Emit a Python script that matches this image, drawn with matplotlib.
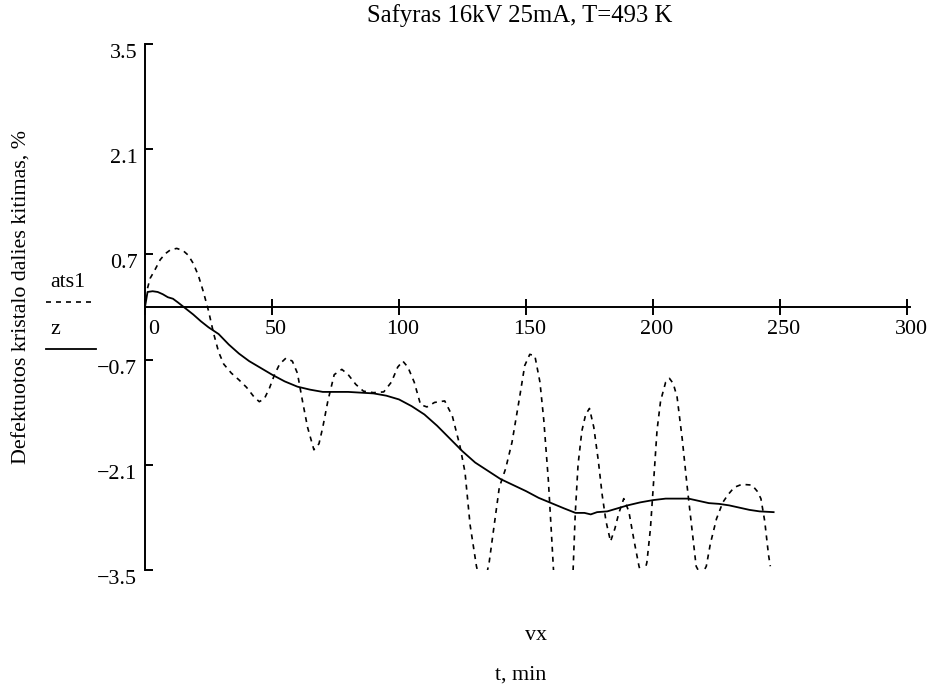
import matplotlib
matplotlib.use("Agg")
from matplotlib import pyplot as plt
from matplotlib.lines import Line2D
from matplotlib.transforms import ScaledTranslation

plt.rcParams['font.family'] = ['Liberation Serif', 'DejaVu Serif']

title = "Safyras 16kV 25mA, T=493 K"
y_label = "Defektuotos kristalo dalies kitimas, %"
x_name = "vx"
x_label = "t, min"

x_ticks = [0, 50, 100, 150, 200, 250, 300]
y_ticks = [-3.5, -2.1, -0.7, 0.7, 2.1, 3.5]
y_tick_labels = ["\u22123.5", "\u22122.1", "\u22120.7", "0.7", "2.1", "3.5"]

# ats1 - isvestine (punktyrine kreive)
t_ats1 = [1, 2, 4, 6, 8, 10, 12.5, 15, 17, 19, 21, 23, 25, 27, 29, 31, 34, 37, 40, 43,
          45, 47, 49, 51, 53, 55.5, 58, 60, 62, 64, 66.5, 68.5, 70, 72, 74.5, 77.5, 80, 83, 86, 90,
          94, 97, 99.5, 101.5, 103.5, 106, 108.5, 111, 114, 118, 121, 124, 126, 128, 130.5, 133, 135.5, 137.5,
          139.5, 142, 144.5, 147.5, 149.5, 151.5, 153.5, 155.5, 157, 158.8, 160, 161, 164.5, 168.5, 169.4, 170.5,
          172, 173.5, 175, 176.7, 178.5, 180, 181.5, 183.3, 185, 186.5, 188.5, 190.5, 192.5, 194.5, 196, 197.6,
          199, 200.3, 201.6, 203, 205, 206.5, 208, 209.5, 211.5, 213.5, 215.4, 217, 219, 221, 222.6, 225,
          227.5, 229.5, 232, 235, 239, 241, 242.5, 244, 245.5, 246.2]
ats1 = [0.25, 0.38, 0.5, 0.63, 0.71, 0.76, 0.78, 0.75, 0.69, 0.58, 0.42, 0.2, -0.05, -0.35, -0.6, -0.76, -0.88, -0.97, -1.07, -1.2,
        -1.26, -1.22, -1.08, -0.9, -0.76, -0.68, -0.72, -0.88, -1.25, -1.6, -1.9, -1.82, -1.6, -1.25, -0.9, -0.83, -0.9, -1.03, -1.12, -1.14,
        -1.13, -1.0, -0.8, -0.72, -0.8, -1.0, -1.3, -1.33, -1.27, -1.25, -1.45, -1.85, -2.2, -2.9, -3.45, -3.8, -3.4, -2.9,
        -2.4, -2.15, -1.8, -1.2, -0.78, -0.63, -0.65, -1.0, -1.5, -2.3, -3.0, -3.6, -4.2, -3.55, -2.75, -2.1,
        -1.65, -1.43, -1.35, -1.6, -2.05, -2.5, -2.85, -3.12, -2.95, -2.75, -2.55, -2.72, -3.1, -3.45, -3.62, -3.4,
        -2.95, -2.3, -1.64, -1.25, -1.0, -0.95, -1.02, -1.2, -1.75, -2.4, -2.97, -3.45, -3.58, -3.45, -3.15, -2.82,
        -2.6, -2.5, -2.4, -2.36, -2.37, -2.45, -2.55, -2.85, -3.3, -3.45]

# z - suglodinta kreive
t_z = [0, 1, 3, 5, 7, 9, 11, 13, 16, 19, 22, 25, 29, 33, 37, 41, 45, 50, 55, 60,
       65, 70, 75, 80, 85, 90, 95, 100, 105, 110, 115, 120, 125, 130, 135, 140, 145, 150, 155, 160,
       165, 169.5, 173, 175.5, 178, 182, 186, 190, 195, 200, 205, 210, 214, 218, 222, 226, 230, 234, 238, 242,
       247.5]
z = [0.0, 0.2, 0.21, 0.2, 0.17, 0.13, 0.11, 0.06, -0.02, -0.1, -0.19, -0.27, -0.36, -0.5, -0.62, -0.72, -0.8, -0.9, -0.99, -1.06,
     -1.1, -1.13, -1.13, -1.13, -1.14, -1.15, -1.18, -1.23, -1.32, -1.43, -1.58, -1.75, -1.92, -2.07, -2.18, -2.29, -2.37, -2.45, -2.54, -2.61,
     -2.68, -2.74, -2.74, -2.76, -2.73, -2.72, -2.68, -2.64, -2.6, -2.57, -2.55, -2.55, -2.55, -2.58, -2.61, -2.62, -2.64, -2.67, -2.7, -2.72,
     -2.73]

fig = plt.figure(figsize=(9.34, 6.88), dpi=100)
ax = fig.add_axes([145 / 934, 118 / 688, 765 / 934, 526 / 688])

ax.plot(t_ats1, ats1, color='black', lw=1.2, linestyle=(0, (3, 3)))
ax.plot(t_z, z, color='black', lw=1.3)

ax.set_xlim(0, 301.2)
ax.set_ylim(-3.5, 3.5)

for s in ['top', 'right']:
    ax.spines[s].set_visible(False)
ax.spines['left'].set_position(('data', 0))
ax.spines['bottom'].set_position(('data', 0))
ax.spines['left'].set_linewidth(1.4)
ax.spines['bottom'].set_linewidth(1.4)

ax.set_xticks(x_ticks)
ax.set_xticklabels([str(v) for v in x_ticks])
ax.set_yticks(y_ticks)
ax.set_yticklabels(y_tick_labels)
ax.tick_params(axis='x', direction='inout', length=12, width=1.4, pad=3.5, labelsize=15.8)
ax.tick_params(axis='y', direction='in', length=6, width=1.4, pad=5.5, labelsize=15.8)

for i, lab in enumerate(ax.get_xticklabels()):
    dx = 9 if i == 0 else 4
    lab.set_transform(lab.get_transform() + ScaledTranslation(dx / 100, 0, fig.dpi_scale_trans))
for lab in ax.get_yticklabels():
    lab.set_verticalalignment('top')

fig.text(520 / 934, 1 - 16 / 688, title, ha='center', va='center', fontsize=17.8)
fig.text(22 / 934, 1 - 297 / 688, y_label, ha='center', va='center', rotation=90, fontsize=15.8)
fig.text(536 / 934, 1 - 635 / 688, x_name, ha='center', va='center', fontsize=15.8)
fig.text(521 / 934, 1 - 675 / 688, x_label, ha='center', va='center', fontsize=15.8)

# legenda kaip Mathcad
fig.text(50 / 934, 1 - 282 / 688, "ats1", ha='left', va='center', fontsize=15.8)
fig.add_artist(Line2D([46 / 934, 95 / 934], [1 - 302 / 688, 1 - 302 / 688], color='black', lw=1.2,
                      linestyle=(0, (3, 3)), transform=fig.transFigure))
fig.text(50 / 934, 1 - 330 / 688, "z", ha='left', va='center', fontsize=15.8)
fig.add_artist(Line2D([46 / 934, 96 / 934], [1 - 349 / 688, 1 - 349 / 688], color='black', lw=1.3,
                      transform=fig.transFigure))

fig.savefig('out.png', dpi=100)
